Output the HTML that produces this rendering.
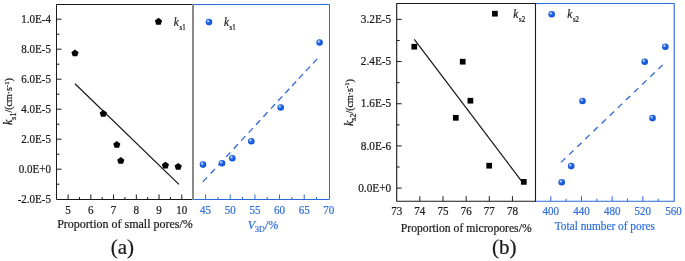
<!DOCTYPE html>
<html><head><meta charset="utf-8"><style>html,body{margin:0;padding:0;background:#fff;overflow:hidden;}svg{display:block;will-change:transform;}text{font-family:"Liberation Serif",serif;}</style></head>
<body><svg width="685" height="261" viewBox="0 0 685 261">
<defs><radialGradient id="g" cx="0.45" cy="0.45" r="0.6" fx="0.33" fy="0.3">
<stop offset="0" stop-color="#eef4fe"/><stop offset="0.18" stop-color="#9dbdf5"/><stop offset="0.42" stop-color="#2466e4"/><stop offset="1" stop-color="#0c4ed4"/></radialGradient></defs>
<rect width="685" height="261" fill="#fff"/>
<text x="51.00" y="203.20" font-size="11.6" text-anchor="end" fill="#1a1a1a" stroke="#1a1a1a" stroke-width="0.22" transform="translate(51.00,0) scale(0.95,1) translate(-51.00,0)" >-2.0E-5</text>
<line x1="56.50" y1="184.20" x2="59.50" y2="184.20" stroke="#1a1a1a" stroke-width="1" />
<line x1="56.50" y1="169.20" x2="61.50" y2="169.20" stroke="#1a1a1a" stroke-width="1" />
<text x="51.00" y="173.20" font-size="11.6" text-anchor="end" fill="#1a1a1a" stroke="#1a1a1a" stroke-width="0.22" transform="translate(51.00,0) scale(0.95,1) translate(-51.00,0)" >0.0E+0</text>
<line x1="56.50" y1="154.20" x2="59.50" y2="154.20" stroke="#1a1a1a" stroke-width="1" />
<line x1="56.50" y1="139.20" x2="61.50" y2="139.20" stroke="#1a1a1a" stroke-width="1" />
<text x="51.00" y="143.20" font-size="11.6" text-anchor="end" fill="#1a1a1a" stroke="#1a1a1a" stroke-width="0.22" transform="translate(51.00,0) scale(0.95,1) translate(-51.00,0)" >2.0E-5</text>
<line x1="56.50" y1="124.20" x2="59.50" y2="124.20" stroke="#1a1a1a" stroke-width="1" />
<line x1="56.50" y1="109.20" x2="61.50" y2="109.20" stroke="#1a1a1a" stroke-width="1" />
<text x="51.00" y="113.20" font-size="11.6" text-anchor="end" fill="#1a1a1a" stroke="#1a1a1a" stroke-width="0.22" transform="translate(51.00,0) scale(0.95,1) translate(-51.00,0)" >4.0E-5</text>
<line x1="56.50" y1="94.20" x2="59.50" y2="94.20" stroke="#1a1a1a" stroke-width="1" />
<line x1="56.50" y1="79.20" x2="61.50" y2="79.20" stroke="#1a1a1a" stroke-width="1" />
<text x="51.00" y="83.20" font-size="11.6" text-anchor="end" fill="#1a1a1a" stroke="#1a1a1a" stroke-width="0.22" transform="translate(51.00,0) scale(0.95,1) translate(-51.00,0)" >6.0E-5</text>
<line x1="56.50" y1="64.20" x2="59.50" y2="64.20" stroke="#1a1a1a" stroke-width="1" />
<line x1="56.50" y1="49.20" x2="61.50" y2="49.20" stroke="#1a1a1a" stroke-width="1" />
<text x="51.00" y="53.20" font-size="11.6" text-anchor="end" fill="#1a1a1a" stroke="#1a1a1a" stroke-width="0.22" transform="translate(51.00,0) scale(0.95,1) translate(-51.00,0)" >8.0E-5</text>
<line x1="56.50" y1="34.20" x2="59.50" y2="34.20" stroke="#1a1a1a" stroke-width="1" />
<line x1="56.50" y1="19.20" x2="61.50" y2="19.20" stroke="#1a1a1a" stroke-width="1" />
<text x="51.00" y="23.20" font-size="11.6" text-anchor="end" fill="#1a1a1a" stroke="#1a1a1a" stroke-width="0.22" transform="translate(51.00,0) scale(0.95,1) translate(-51.00,0)" >1.0E-4</text>
<line x1="68.10" y1="199.50" x2="68.10" y2="194.50" stroke="#1a1a1a" stroke-width="1" />
<text x="68.10" y="213.60" font-size="11.6" text-anchor="middle" fill="#1a1a1a" stroke="#1a1a1a" stroke-width="0.22" transform="translate(68.10,0) scale(0.95,1) translate(-68.10,0)" >5</text>
<line x1="79.47" y1="199.50" x2="79.47" y2="197.00" stroke="#1a1a1a" stroke-width="1" />
<line x1="90.84" y1="199.50" x2="90.84" y2="194.50" stroke="#1a1a1a" stroke-width="1" />
<text x="90.84" y="213.60" font-size="11.6" text-anchor="middle" fill="#1a1a1a" stroke="#1a1a1a" stroke-width="0.22" transform="translate(90.84,0) scale(0.95,1) translate(-90.84,0)" >6</text>
<line x1="102.21" y1="199.50" x2="102.21" y2="197.00" stroke="#1a1a1a" stroke-width="1" />
<line x1="113.58" y1="199.50" x2="113.58" y2="194.50" stroke="#1a1a1a" stroke-width="1" />
<text x="113.58" y="213.60" font-size="11.6" text-anchor="middle" fill="#1a1a1a" stroke="#1a1a1a" stroke-width="0.22" transform="translate(113.58,0) scale(0.95,1) translate(-113.58,0)" >7</text>
<line x1="124.95" y1="199.50" x2="124.95" y2="197.00" stroke="#1a1a1a" stroke-width="1" />
<line x1="136.32" y1="199.50" x2="136.32" y2="194.50" stroke="#1a1a1a" stroke-width="1" />
<text x="136.32" y="213.60" font-size="11.6" text-anchor="middle" fill="#1a1a1a" stroke="#1a1a1a" stroke-width="0.22" transform="translate(136.32,0) scale(0.95,1) translate(-136.32,0)" >8</text>
<line x1="147.69" y1="199.50" x2="147.69" y2="197.00" stroke="#1a1a1a" stroke-width="1" />
<line x1="159.06" y1="199.50" x2="159.06" y2="194.50" stroke="#1a1a1a" stroke-width="1" />
<text x="159.06" y="213.60" font-size="11.6" text-anchor="middle" fill="#1a1a1a" stroke="#1a1a1a" stroke-width="0.22" transform="translate(159.06,0) scale(0.95,1) translate(-159.06,0)" >9</text>
<line x1="170.43" y1="199.50" x2="170.43" y2="197.00" stroke="#1a1a1a" stroke-width="1" />
<line x1="181.80" y1="199.50" x2="181.80" y2="194.50" stroke="#1a1a1a" stroke-width="1" />
<text x="181.80" y="213.60" font-size="11.6" text-anchor="middle" fill="#1a1a1a" stroke="#1a1a1a" stroke-width="0.22" transform="translate(181.80,0) scale(0.95,1) translate(-181.80,0)" >10</text>
<polyline points="192.5,4.5 56.5,4.5 56.5,199.5 192.5,199.5" fill="none" stroke="#1a1a1a" stroke-width="1"/>
<line x1="75.00" y1="83.70" x2="178.90" y2="184.40" stroke="#1a1a1a" stroke-width="1.25" />
<polygon points="75.00,49.50 78.61,52.13 77.23,56.37 72.77,56.37 71.39,52.13" fill="#000"/>
<polygon points="103.30,109.90 106.91,112.53 105.53,116.77 101.07,116.77 99.69,112.53" fill="#000"/>
<polygon points="116.80,141.00 120.41,143.63 119.03,147.87 114.57,147.87 113.19,143.63" fill="#000"/>
<polygon points="120.80,157.00 124.41,159.63 123.03,163.87 118.57,163.87 117.19,159.63" fill="#000"/>
<polygon points="165.40,161.70 169.01,164.33 167.63,168.57 163.17,168.57 161.79,164.33" fill="#000"/>
<polygon points="178.20,162.90 181.81,165.53 180.43,169.77 175.97,169.77 174.59,165.53" fill="#000"/>
<polygon points="158.50,17.80 162.11,20.43 160.73,24.67 156.27,24.67 154.89,20.43" fill="#000"/>
<text x="173.8" y="25.8" font-size="12" fill="#1a1a1a" stroke="#1a1a1a" stroke-width="0.22" transform="translate(173.8,0) scale(0.93,1) translate(-173.8,0)"><tspan font-style="italic">k</tspan><tspan font-size="7.4" dx="0.8" dy="4">s1</tspan></text>
<text x="125.00" y="227.80" font-size="12" text-anchor="middle" fill="#1a1a1a" stroke="#1a1a1a" stroke-width="0.22" >Proportion of small pores/%</text>
<text x="122.30" y="254.00" font-size="21" text-anchor="middle" fill="#1a1a1a" stroke="#1a1a1a" stroke-width="0.22" >(a)</text>
<text transform="translate(12.3,125) rotate(-90)" font-size="12" fill="#1a1a1a" stroke="#1a1a1a" stroke-width="0.22"><tspan font-style="italic">k</tspan><tspan font-size="8" dy="3.4">s1</tspan><tspan font-size="10" dy="-3.4">/(cm·s</tspan><tspan font-size="6.5" dy="-3.6">-1</tspan><tspan font-size="10" dy="3.6">)</tspan></text>
<line x1="205.60" y1="199.50" x2="205.60" y2="194.50" stroke="#2c68da" stroke-width="1" />
<text x="205.60" y="213.60" font-size="11.6" text-anchor="middle" fill="#3170dc" stroke="#3170dc" stroke-width="0.22" transform="translate(205.60,0) scale(0.95,1) translate(-205.60,0)" >45</text>
<line x1="217.92" y1="199.50" x2="217.92" y2="197.00" stroke="#2c68da" stroke-width="1" />
<line x1="230.25" y1="199.50" x2="230.25" y2="194.50" stroke="#2c68da" stroke-width="1" />
<text x="230.25" y="213.60" font-size="11.6" text-anchor="middle" fill="#3170dc" stroke="#3170dc" stroke-width="0.22" transform="translate(230.25,0) scale(0.95,1) translate(-230.25,0)" >50</text>
<line x1="242.57" y1="199.50" x2="242.57" y2="197.00" stroke="#2c68da" stroke-width="1" />
<line x1="254.90" y1="199.50" x2="254.90" y2="194.50" stroke="#2c68da" stroke-width="1" />
<text x="254.90" y="213.60" font-size="11.6" text-anchor="middle" fill="#3170dc" stroke="#3170dc" stroke-width="0.22" transform="translate(254.90,0) scale(0.95,1) translate(-254.90,0)" >55</text>
<line x1="267.23" y1="199.50" x2="267.23" y2="197.00" stroke="#2c68da" stroke-width="1" />
<line x1="279.55" y1="199.50" x2="279.55" y2="194.50" stroke="#2c68da" stroke-width="1" />
<text x="279.55" y="213.60" font-size="11.6" text-anchor="middle" fill="#3170dc" stroke="#3170dc" stroke-width="0.22" transform="translate(279.55,0) scale(0.95,1) translate(-279.55,0)" >60</text>
<line x1="291.88" y1="199.50" x2="291.88" y2="197.00" stroke="#2c68da" stroke-width="1" />
<line x1="304.20" y1="199.50" x2="304.20" y2="194.50" stroke="#2c68da" stroke-width="1" />
<text x="304.20" y="213.60" font-size="11.6" text-anchor="middle" fill="#3170dc" stroke="#3170dc" stroke-width="0.22" transform="translate(304.20,0) scale(0.95,1) translate(-304.20,0)" >65</text>
<line x1="316.52" y1="199.50" x2="316.52" y2="197.00" stroke="#2c68da" stroke-width="1" />
<text x="328.85" y="213.60" font-size="11.6" text-anchor="middle" fill="#3170dc" stroke="#3170dc" stroke-width="0.22" transform="translate(328.85,0) scale(0.95,1) translate(-328.85,0)" >70</text>
<polyline points="193,4.5 329.5,4.5 329.5,199.5 193,199.5" fill="none" stroke="#2c68da" stroke-width="1"/>
<line x1="202.90" y1="181.90" x2="207.05" y2="177.43" stroke="#2c68da" stroke-width="1.3" />
<line x1="210.70" y1="173.50" x2="214.85" y2="169.03" stroke="#2c68da" stroke-width="1.3" />
<line x1="218.40" y1="165.21" x2="222.55" y2="160.74" stroke="#2c68da" stroke-width="1.3" />
<line x1="226.10" y1="156.91" x2="230.25" y2="152.44" stroke="#2c68da" stroke-width="1.3" />
<line x1="233.70" y1="148.73" x2="237.85" y2="144.26" stroke="#2c68da" stroke-width="1.3" />
<line x1="241.20" y1="140.65" x2="245.35" y2="136.18" stroke="#2c68da" stroke-width="1.3" />
<line x1="248.70" y1="132.57" x2="252.85" y2="128.10" stroke="#2c68da" stroke-width="1.3" />
<line x1="256.00" y1="124.71" x2="260.15" y2="120.24" stroke="#2c68da" stroke-width="1.3" />
<line x1="263.40" y1="116.74" x2="267.55" y2="112.27" stroke="#2c68da" stroke-width="1.3" />
<line x1="270.90" y1="108.66" x2="275.05" y2="104.19" stroke="#2c68da" stroke-width="1.3" />
<line x1="278.20" y1="100.80" x2="282.35" y2="96.33" stroke="#2c68da" stroke-width="1.3" />
<line x1="285.20" y1="93.26" x2="289.35" y2="88.79" stroke="#2c68da" stroke-width="1.3" />
<line x1="292.00" y1="85.94" x2="296.15" y2="81.47" stroke="#2c68da" stroke-width="1.3" />
<line x1="298.80" y1="78.62" x2="302.95" y2="74.15" stroke="#2c68da" stroke-width="1.3" />
<line x1="305.80" y1="71.08" x2="309.95" y2="66.61" stroke="#2c68da" stroke-width="1.3" />
<line x1="313.00" y1="63.32" x2="317.15" y2="58.85" stroke="#2c68da" stroke-width="1.3" />
<circle cx="203.00" cy="164.60" r="3.3" fill="url(#g)"/>
<circle cx="222.00" cy="163.20" r="3.3" fill="url(#g)"/>
<circle cx="232.30" cy="158.20" r="3.3" fill="url(#g)"/>
<circle cx="251.30" cy="141.20" r="3.3" fill="url(#g)"/>
<circle cx="280.70" cy="107.50" r="3.3" fill="url(#g)"/>
<circle cx="319.60" cy="42.50" r="3.3" fill="url(#g)"/>
<circle cx="209.00" cy="22.10" r="3.3" fill="url(#g)"/>
<text x="223.9" y="25.8" font-size="12" fill="#1a1a1a" stroke="#1a1a1a" stroke-width="0.22" transform="translate(223.9,0) scale(0.93,1) translate(-223.9,0)"><tspan font-style="italic">k</tspan><tspan font-size="7.4" dx="0.8" dy="4">s1</tspan></text>
<text x="263" y="228.7" font-size="12" text-anchor="middle" fill="#3170dc" stroke="#3170dc" stroke-width="0.22"><tspan font-style="italic">V</tspan><tspan font-size="8" dy="3">3D</tspan><tspan dy="-3">/%</tspan></text>
<rect x="192" y="4" width="2" height="196" fill="#8a8a8a"/>
<line x1="396.70" y1="188.10" x2="401.70" y2="188.10" stroke="#1a1a1a" stroke-width="1" />
<text x="391.20" y="191.80" font-size="11.6" text-anchor="end" fill="#1a1a1a" stroke="#1a1a1a" stroke-width="0.22" transform="translate(391.20,0) scale(0.975,1) translate(-391.20,0)" >0.0E+0</text>
<line x1="396.70" y1="167.01" x2="399.70" y2="167.01" stroke="#1a1a1a" stroke-width="1" />
<line x1="396.70" y1="145.92" x2="401.70" y2="145.92" stroke="#1a1a1a" stroke-width="1" />
<text x="391.20" y="149.62" font-size="11.6" text-anchor="end" fill="#1a1a1a" stroke="#1a1a1a" stroke-width="0.22" transform="translate(391.20,0) scale(0.975,1) translate(-391.20,0)" >8.0E-6</text>
<line x1="396.70" y1="124.84" x2="399.70" y2="124.84" stroke="#1a1a1a" stroke-width="1" />
<line x1="396.70" y1="103.75" x2="401.70" y2="103.75" stroke="#1a1a1a" stroke-width="1" />
<text x="391.20" y="107.45" font-size="11.6" text-anchor="end" fill="#1a1a1a" stroke="#1a1a1a" stroke-width="0.22" transform="translate(391.20,0) scale(0.975,1) translate(-391.20,0)" >1.6E-5</text>
<line x1="396.70" y1="82.66" x2="399.70" y2="82.66" stroke="#1a1a1a" stroke-width="1" />
<line x1="396.70" y1="61.57" x2="401.70" y2="61.57" stroke="#1a1a1a" stroke-width="1" />
<text x="391.20" y="65.27" font-size="11.6" text-anchor="end" fill="#1a1a1a" stroke="#1a1a1a" stroke-width="0.22" transform="translate(391.20,0) scale(0.975,1) translate(-391.20,0)" >2.4E-5</text>
<line x1="396.70" y1="40.48" x2="399.70" y2="40.48" stroke="#1a1a1a" stroke-width="1" />
<line x1="396.70" y1="19.40" x2="401.70" y2="19.40" stroke="#1a1a1a" stroke-width="1" />
<text x="391.20" y="23.10" font-size="11.6" text-anchor="end" fill="#1a1a1a" stroke="#1a1a1a" stroke-width="0.22" transform="translate(391.20,0) scale(0.975,1) translate(-391.20,0)" >3.2E-5</text>
<text x="396.70" y="214.60" font-size="11.6" text-anchor="middle" fill="#1a1a1a" stroke="#1a1a1a" stroke-width="0.22" transform="translate(396.70,0) scale(0.95,1) translate(-396.70,0)" >73</text>
<line x1="419.85" y1="201.20" x2="419.85" y2="196.20" stroke="#1a1a1a" stroke-width="1" />
<text x="419.85" y="214.60" font-size="11.6" text-anchor="middle" fill="#1a1a1a" stroke="#1a1a1a" stroke-width="0.22" transform="translate(419.85,0) scale(0.95,1) translate(-419.85,0)" >74</text>
<line x1="443.00" y1="201.20" x2="443.00" y2="196.20" stroke="#1a1a1a" stroke-width="1" />
<text x="443.00" y="214.60" font-size="11.6" text-anchor="middle" fill="#1a1a1a" stroke="#1a1a1a" stroke-width="0.22" transform="translate(443.00,0) scale(0.95,1) translate(-443.00,0)" >75</text>
<line x1="466.15" y1="201.20" x2="466.15" y2="196.20" stroke="#1a1a1a" stroke-width="1" />
<text x="466.15" y="214.60" font-size="11.6" text-anchor="middle" fill="#1a1a1a" stroke="#1a1a1a" stroke-width="0.22" transform="translate(466.15,0) scale(0.95,1) translate(-466.15,0)" >76</text>
<line x1="489.30" y1="201.20" x2="489.30" y2="196.20" stroke="#1a1a1a" stroke-width="1" />
<text x="489.30" y="214.60" font-size="11.6" text-anchor="middle" fill="#1a1a1a" stroke="#1a1a1a" stroke-width="0.22" transform="translate(489.30,0) scale(0.95,1) translate(-489.30,0)" >77</text>
<line x1="512.45" y1="201.20" x2="512.45" y2="196.20" stroke="#1a1a1a" stroke-width="1" />
<text x="512.45" y="214.60" font-size="11.6" text-anchor="middle" fill="#1a1a1a" stroke="#1a1a1a" stroke-width="0.22" transform="translate(512.45,0) scale(0.95,1) translate(-512.45,0)" >78</text>
<polyline points="535.5,3.5 396.7,3.5 396.7,201.2 535.5,201.2" fill="none" stroke="#1a1a1a" stroke-width="1.1"/>
<line x1="414.30" y1="39.30" x2="522.30" y2="182.10" stroke="#1a1a1a" stroke-width="1.25" />
<rect x="411.45" y="43.85" width="5.7" height="5.7" fill="#000"/>
<rect x="459.85" y="58.85" width="5.7" height="5.7" fill="#000"/>
<rect x="467.55" y="97.85" width="5.7" height="5.7" fill="#000"/>
<rect x="452.95" y="114.95" width="5.7" height="5.7" fill="#000"/>
<rect x="486.35" y="162.85" width="5.7" height="5.7" fill="#000"/>
<rect x="520.95" y="179.05" width="5.7" height="5.7" fill="#000"/>
<rect x="492.05" y="10.85" width="5.7" height="5.7" fill="#000"/>
<text x="513.3" y="17.8" font-size="12" fill="#1a1a1a" stroke="#1a1a1a" stroke-width="0.22" transform="translate(513.3,0) scale(0.93,1) translate(-513.3,0)"><tspan font-style="italic">k</tspan><tspan font-size="7.4" dx="0.8" dy="4">s2</tspan></text>
<text x="466.20" y="231.60" font-size="12" text-anchor="middle" fill="#1a1a1a" stroke="#1a1a1a" stroke-width="0.22" transform="translate(466.20,0) scale(0.972,1) translate(-466.20,0)" >Proportion of micropores/%</text>
<text x="504.20" y="254.00" font-size="21" text-anchor="middle" fill="#1a1a1a" stroke="#1a1a1a" stroke-width="0.22" >(b)</text>
<text transform="translate(352.8,126) rotate(-90)" font-size="12" fill="#1a1a1a" stroke="#1a1a1a" stroke-width="0.22"><tspan font-style="italic">k</tspan><tspan font-size="8" dy="3.4">s2</tspan><tspan font-size="10" dy="-3.4">/(cm·s</tspan><tspan font-size="6.5" dy="-3.6">-1</tspan><tspan font-size="10" dy="3.6">)</tspan></text>
<line x1="550.80" y1="201.20" x2="550.80" y2="196.20" stroke="#2c68da" stroke-width="1" />
<text x="550.80" y="214.60" font-size="11.6" text-anchor="middle" fill="#3170dc" stroke="#3170dc" stroke-width="0.22" transform="translate(550.80,0) scale(0.95,1) translate(-550.80,0)" >400</text>
<line x1="566.14" y1="201.20" x2="566.14" y2="198.70" stroke="#2c68da" stroke-width="1" />
<line x1="581.48" y1="201.20" x2="581.48" y2="196.20" stroke="#2c68da" stroke-width="1" />
<text x="581.48" y="214.60" font-size="11.6" text-anchor="middle" fill="#3170dc" stroke="#3170dc" stroke-width="0.22" transform="translate(581.48,0) scale(0.95,1) translate(-581.48,0)" >440</text>
<line x1="596.82" y1="201.20" x2="596.82" y2="198.70" stroke="#2c68da" stroke-width="1" />
<line x1="612.16" y1="201.20" x2="612.16" y2="196.20" stroke="#2c68da" stroke-width="1" />
<text x="612.16" y="214.60" font-size="11.6" text-anchor="middle" fill="#3170dc" stroke="#3170dc" stroke-width="0.22" transform="translate(612.16,0) scale(0.95,1) translate(-612.16,0)" >480</text>
<line x1="627.50" y1="201.20" x2="627.50" y2="198.70" stroke="#2c68da" stroke-width="1" />
<line x1="642.84" y1="201.20" x2="642.84" y2="196.20" stroke="#2c68da" stroke-width="1" />
<text x="642.84" y="214.60" font-size="11.6" text-anchor="middle" fill="#3170dc" stroke="#3170dc" stroke-width="0.22" transform="translate(642.84,0) scale(0.95,1) translate(-642.84,0)" >520</text>
<line x1="658.18" y1="201.20" x2="658.18" y2="198.70" stroke="#2c68da" stroke-width="1" />
<text x="673.52" y="214.60" font-size="11.6" text-anchor="middle" fill="#3170dc" stroke="#3170dc" stroke-width="0.22" transform="translate(673.52,0) scale(0.95,1) translate(-673.52,0)" >560</text>
<polyline points="535.5,3.5 674.2,3.5 674.2,201.2 535.5,201.2" fill="none" stroke="#2c68da" stroke-width="1.1"/>
<line x1="561.00" y1="162.40" x2="662.60" y2="64.90" stroke="#2c68da" stroke-width="1.3" stroke-dasharray="6 5.25"/>
<circle cx="582.50" cy="101.00" r="3.3" fill="url(#g)"/>
<circle cx="652.50" cy="118.10" r="3.3" fill="url(#g)"/>
<circle cx="571.20" cy="166.10" r="3.3" fill="url(#g)"/>
<circle cx="561.70" cy="182.30" r="3.3" fill="url(#g)"/>
<circle cx="644.70" cy="61.70" r="3.3" fill="url(#g)"/>
<circle cx="665.30" cy="46.70" r="3.3" fill="url(#g)"/>
<circle cx="551.70" cy="14.30" r="3.3" fill="url(#g)"/>
<text x="567.2" y="17.8" font-size="12" fill="#1a1a1a" stroke="#1a1a1a" stroke-width="0.22" transform="translate(567.2,0) scale(0.93,1) translate(-567.2,0)"><tspan font-style="italic">k</tspan><tspan font-size="7.4" dx="0.8" dy="4">s2</tspan></text>
<text x="604.80" y="229.70" font-size="12" text-anchor="middle" fill="#3170dc" stroke="#3170dc" stroke-width="0.22" transform="translate(604.80,0) scale(0.945,1) translate(-604.80,0)" >Total number of pores</text>
<line x1="535.50" y1="3.00" x2="535.50" y2="201.70" stroke="#1a1a1a" stroke-width="1.1" />
</svg></body></html>
